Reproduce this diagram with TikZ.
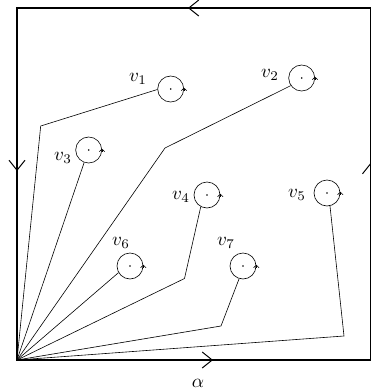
\documentclass[tikz,border=0pt]{standalone}
\usetikzlibrary{arrows.meta}
\begin{document}
\begin{tikzpicture}[x=1pt,y=-1pt,
  vert/.style={circle,draw,line width=0.6pt,minimum size=26pt,inner sep=0pt},
  lbl/.style={scale=1.9,inner sep=0pt},
  wire/.style={line width=0.6pt},
  frame/.style={line width=1.4pt},
  bigtip/.style={line width=1pt,-{Straight Barb[length=10pt,width=16pt]}},
  smalltip/.style={line width=0.6pt,-{Straight Barb[length=2.5pt,width=5.5pt]}}]
\useasboundingbox (0,0) rectangle (371,392);
% frame
\coordinate (O) at (17,360);
\coordinate (TL) at (17,8);
\coordinate (TR) at (370.5,8);
\coordinate (BR) at (370.5,360);
\draw[frame] (O) -- (TL) -- (TR) -- (BR) -- cycle;
% edge arrows
\coordinate (ta0) at (200,8);   \coordinate (ta1) at (188,8);
\coordinate (la0) at (17,159);  \coordinate (la1) at (17,171);
\coordinate (ba0) at (201,360); \coordinate (ba1) at (213,360);
\coordinate (ra0) at (370.5,175); \coordinate (ra1) at (370.5,163);
\draw[bigtip] (ta0) -- (ta1);
\draw[bigtip] (la0) -- (la1);
\draw[bigtip] (ba0) -- (ba1);
\draw[bigtip] (ra0) -- (ra1);
% vertices
\node[vert] (c1) at (170.7,89) {};
\node[vert] (c2) at (301.7,78) {};
\node[vert] (c3) at (88.7,150) {};
\node[vert] (c4) at (207,195) {};
\node[vert] (c5) at (327,193) {};
\node[vert] (c6) at (130,266) {};
\node[vert] (c7) at (243,266) {};
\foreach \c in {c1,c2,c3,c4,c5,c6,c7}{
  \fill (\c) circle (0.9pt);
  \draw[smalltip] ([yshift=-1.5pt]\c.east) -- ([yshift=1.2pt]\c.east);
}
% labels
\node[lbl] (l1) at (138,79) {$v_1$};
\node[lbl] (l2) at (270,75) {$v_2$};
\node[lbl] (l3) at (63,158) {$v_3$};
\node[lbl] (l4) at (181,197) {$v_4$};
\node[lbl] (l5) at (297,195) {$v_5$};
\node[lbl] (l6) at (121,243) {$v_6$};
\node[lbl] (l7) at (226,243) {$v_7$};
\node[lbl] (alpha) at (198,383) {$\alpha$};
% bends
\coordinate (b1) at (40.7,126);
\coordinate (b2) at (165,148);
\coordinate (b4) at (184.5,278.5);
\coordinate (b5) at (344,336);
\coordinate (b7) at (221,326);
% wires
\draw[wire] (O) -- (b1) -- (c1.182);
\draw[wire] (O) -- (b2) -- (c2.215);
\draw[wire] (O) -- (c3.250);
\draw[wire] (O) -- (b4) -- (c4.242);
\draw[wire] (O) -- (b5) -- (c5.283);
\draw[wire] (O) -- (c6.210);
\draw[wire] (O) -- (b7) -- (c7.253);
\end{tikzpicture}
\end{document}
